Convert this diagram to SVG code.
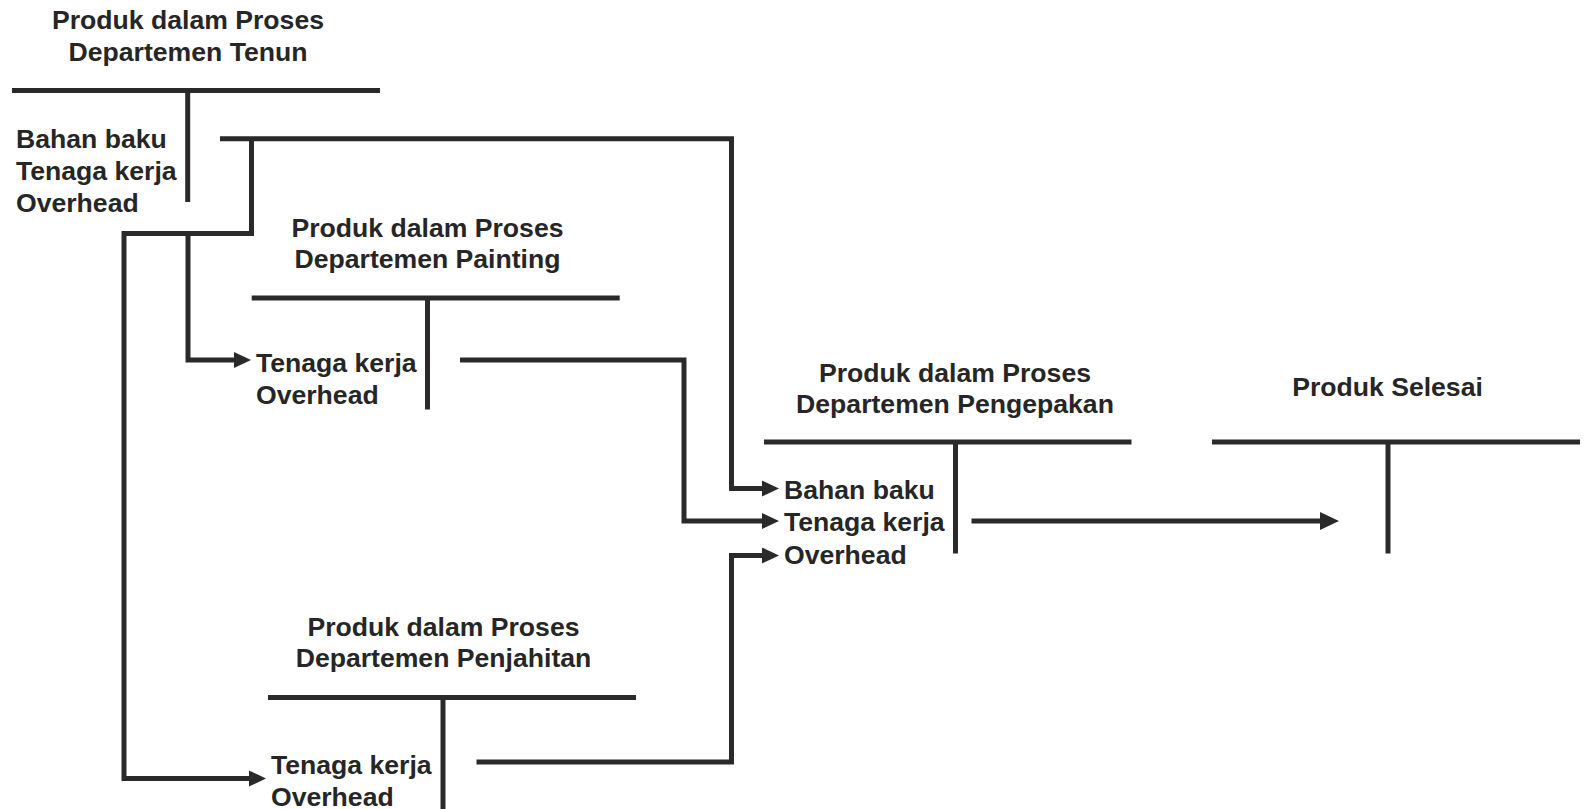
<svg xmlns="http://www.w3.org/2000/svg" width="1585" height="809" viewBox="0 0 1585 809">
<style>
  .t { font-family: "Liberation Sans", Arial, sans-serif; font-weight: bold; font-size: 26.6px; fill: #262626; }
  .c { text-anchor: middle; }
  .ln { stroke: #2a2a2a; stroke-width: 5; fill: none; stroke-linejoin: miter; stroke-linecap: butt; }
</style>
<defs>
  <marker id="ah" markerUnits="userSpaceOnUse" markerWidth="17" markerHeight="16" refX="1" refY="8" orient="auto" overflow="visible">
    <path d="M0,0 L17,8 L0,16 z" fill="#2a2a2a"/>
  </marker>
  <marker id="ahb" markerUnits="userSpaceOnUse" markerWidth="19" markerHeight="18" refX="1" refY="9" orient="auto" overflow="visible">
    <path d="M0,0 L19,9 L0,18 z" fill="#2a2a2a"/>
  </marker>
</defs>

<g id="tenun">
  <text class="t c" x="188" y="28.5">Produk dalam Proses</text>
  <text class="t c" x="188" y="61">Departemen Tenun</text>
  <line class="ln" x1="12" y1="90.5" x2="380" y2="90.5"/>
  <line class="ln" x1="187.7" y1="90.5" x2="187.7" y2="202"/>
  <text class="t" x="16" y="148">Bahan baku</text>
  <text class="t" x="16" y="180">Tenaga kerja</text>
  <text class="t" x="16" y="212">Overhead</text>
</g>

<g id="painting">
  <text class="t c" x="427.5" y="236.5">Produk dalam Proses</text>
  <text class="t c" x="427.5" y="268">Departemen Painting</text>
  <line class="ln" x1="251.7" y1="298" x2="619.7" y2="298"/>
  <line class="ln" x1="427.5" y1="298" x2="427.5" y2="409.5"/>
  <text class="t" x="256" y="372">Tenaga kerja</text>
  <text class="t" x="256" y="403.5">Overhead</text>
</g>

<g id="pengepakan">
  <text class="t c" x="955" y="381.5">Produk dalam Proses</text>
  <text class="t c" x="955" y="413">Departemen Pengepakan</text>
  <line class="ln" x1="764" y1="442" x2="1131.5" y2="442"/>
  <line class="ln" x1="955.5" y1="442" x2="955.5" y2="553.5"/>
  <text class="t" x="784" y="498.5">Bahan baku</text>
  <text class="t" x="784" y="531">Tenaga kerja</text>
  <text class="t" x="784" y="563.5">Overhead</text>
</g>

<g id="penjahitan">
  <text class="t c" x="443.5" y="636">Produk dalam Proses</text>
  <text class="t c" x="443.5" y="667">Departemen Penjahitan</text>
  <line class="ln" x1="268" y1="697.5" x2="636" y2="697.5"/>
  <line class="ln" x1="443" y1="697.5" x2="443" y2="809"/>
  <text class="t" x="271" y="774">Tenaga kerja</text>
  <text class="t" x="271" y="805.5">Overhead</text>
</g>

<g id="selesai">
  <text class="t c" x="1387.5" y="396">Produk Selesai</text>
  <line class="ln" x1="1212" y1="442" x2="1580" y2="442"/>
  <line class="ln" x1="1388" y1="442" x2="1388" y2="553.5"/>
</g>

<g id="connectors">
  <path class="ln" d="M220,138.7 H731.5 V488.5 H763" marker-end="url(#ah)"/>
  <path class="ln" d="M251.5,138.7 V233.5 H124 V778.5 H250" marker-end="url(#ah)"/>
  <path class="ln" d="M188,233.5 V360 H235" marker-end="url(#ah)"/>
  <path class="ln" d="M460,360 H684 V521 H763" marker-end="url(#ah)"/>
  <path class="ln" d="M476.5,762 H731.5 V555.5 H763" marker-end="url(#ah)"/>
  <path class="ln" d="M971.5,521 H1321" marker-end="url(#ahb)"/>
</g>
</svg>
